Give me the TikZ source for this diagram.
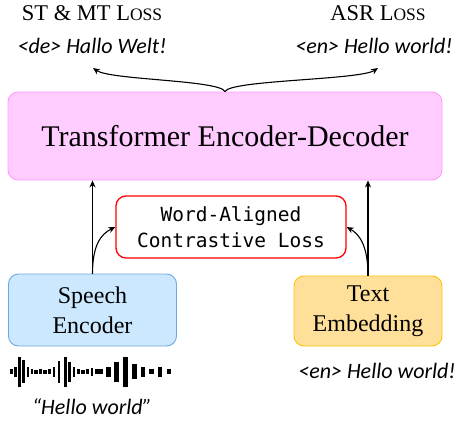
\documentclass[tikz,border=0pt]{standalone}
\usepackage{fontspec}
\setmainfont{Liberation Serif}
\newfontfamily\lblfont{Carlito}
\newfontfamily\codefont{DejaVu Sans Mono}
\usetikzlibrary{arrows.meta}
\definecolor{pinkfill}{HTML}{FFCCFF}
\definecolor{pinkline}{HTML}{FF99FF}
\definecolor{bluefill}{HTML}{CCE8FF}
\definecolor{blueline}{HTML}{6FA8DC}
\definecolor{yelfill}{HTML}{FFE09A}
\definecolor{yelline}{HTML}{FFC000}
\definecolor{redline}{HTML}{FF0000}
\tikzset{
  box/.style={draw, rounded corners=10pt, line width=0.9pt, align=center, inner sep=0pt},
  arr/.style={line width=1.1pt, -{Stealth[length=7pt,width=6pt]}},
  lbl/.style={inner sep=0pt, anchor=base},
  itl/.style={lbl, font=\lblfont\itshape\fontsize{22}{26}\selectfont},
  srl/.style={lbl, font=\fontsize{22.5}{27}\selectfont},
}
\begin{document}
\begin{tikzpicture}[x=1pt,y=1pt]
\useasboundingbox (0,0) rectangle (458,-423);
% boxes
\node[box, fill=pinkfill, draw=pinkline, minimum width=434pt, minimum height=88pt,
      font=\fontsize{30}{35}\selectfont] (T) at (225,-136) {Transformer Encoder-Decoder};
\node[box, fill=white, draw=redline, line width=1.3pt, minimum width=230pt, minimum height=62pt,
      font=\codefont\fontsize{19.5}{26}\selectfont] (W) at (231,-227) {Word-Aligned\\Contrastive Loss};
\node[box, fill=bluefill, draw=blueline, minimum width=168pt, minimum height=72pt,
      font=\fontsize{24}{30}\selectfont] (S) at (92.5,-310) {Speech\\Encoder};
\node[box, fill=yelfill, draw=yelline, minimum width=148pt, minimum height=70pt,
      font=\fontsize{24}{30}\selectfont] (E) at (368,-311) {Text\\Embedding};
% labels
\node[srl] (l1) at (92,-20) {ST \& MT L{\fontsize{17.5}{20}\selectfont OSS}};
\node[srl] (l2) at (378,-20) {ASR L{\fontsize{17.5}{20}\selectfont OSS}};
\node[itl] (l3) at (92,-53) {<de> Hallo Welt!};
\node[itl] (l4) at (374,-53) {<en> Hello world!};
\node[itl] (l5) at (377,-378) {<en> Hello world!};
\node[itl] (l6) at (92,-414) {“Hello world”};
% connectors
\coordinate (tl) at (93,-68);
\coordinate (tr) at (378,-68);
\draw[arr] (T.north) .. controls (220,-80) and (110,-80) .. (tl);
\draw[arr] (T.north) .. controls (230,-80) and (360,-80) .. (tr);
\draw[arr] (S.north) -- (S.north |- T.south);
\draw[arr] (E.north) -- (E.north |- T.south);
\draw[arr] (S.north) .. controls (92.5,-245) and (101,-234) .. (W.west);
\draw[arr] (E.north) .. controls (368,-245) and (359,-234) .. (W.east);
% waveform
\foreach \x/\w/\h in {11.5/3/5, 15.5/2.4/10, 19.5/2.3/30, 23.5/2.3/23, 28/2.4/10, 32/2.6/5,
  36/3.2/4, 40.5/2.8/5, 45/3.2/4, 49.5/2.6/5, 54/2.4/10, 59/2.3/22, 65.5/2.3/30, 69.5/2.3/20,
  74/2.4/10, 78.5/2.6/5, 83/3.2/4, 87.5/2.6/5, 91.7/2/8, 99/8.5/4.5, 108.3/4.9/10,
  116.7/4.9/20, 125.8/5.2/30, 134.2/5/15, 142.8/4.5/10, 151.8/5/4.5, 160/4.8/10, 168.8/4.5/4.5}
  \fill ({\x-\w/2},{-371.5-\h/2}) rectangle ({\x+\w/2},{-371.5+\h/2});
\end{tikzpicture}
\end{document}
